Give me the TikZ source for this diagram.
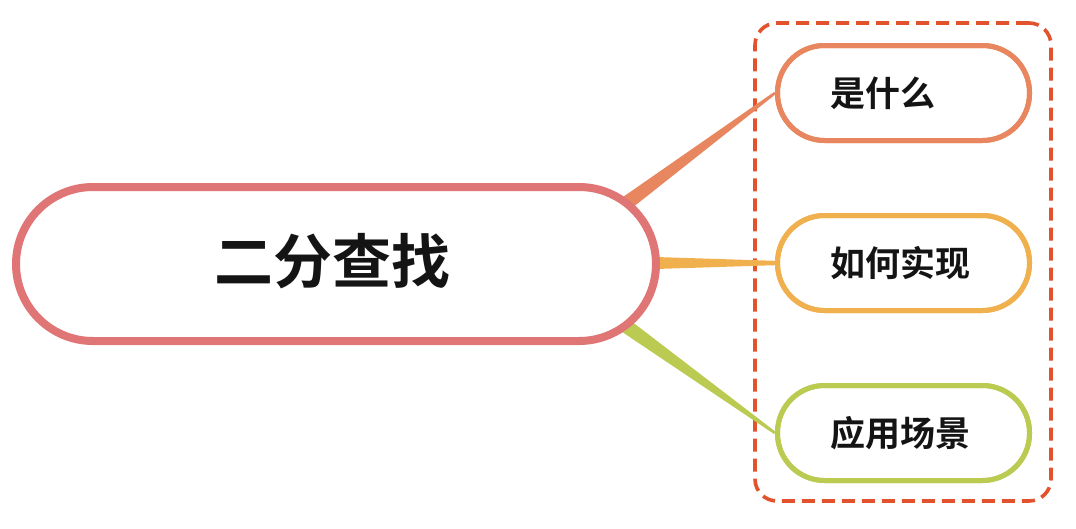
\documentclass[tikz,border=0pt]{standalone}
\usepackage{fontspec}
\newfontfamily\cjk{Noto Sans CJK SC}[BoldFont={Noto Sans CJK SC Bold}]
\usetikzlibrary{calc}
\definecolor{mainc}{HTML}{E07575}
\definecolor{c1}{HTML}{E8875F}
\definecolor{c2}{HTML}{F0B04E}
\definecolor{c3}{HTML}{BBCB52}
\definecolor{dashc}{HTML}{E2532D}
\tikzset{
  mainbox/.style={draw=mainc, line width=8pt, fill=white, rounded corners=77pt,
    minimum width=640pt, minimum height=154pt, inner sep=0pt},
  childbox/.style={line width=5pt, fill=white, rounded corners=47pt,
    minimum width=252pt, minimum height=95pt, inner sep=0pt},
  maintext/.style={font=\cjk\bfseries\fontsize{59}{62}\selectfont, text=black!92},
  childtext/.style={font=\cjk\bfseries\fontsize{35}{39}\selectfont, text=black!92, anchor=west, inner sep=0pt},
}
\begin{document}
\begin{tikzpicture}[x=1pt,y=-1pt]
\useasboundingbox (0,0) rectangle (1076,528);
% group box
\node[draw=dashc, line width=3.6pt, dash pattern=on 13pt off 7pt, rounded corners=22pt,
  minimum width=296pt, minimum height=478pt, inner sep=0pt] (grp) at (903,262) {};
% child nodes
\node[childbox, draw=c1] (a) at (903.5,93) {};
\node[childbox, draw=c2] (b) at (903.5,263) {};
\node[childbox, draw=c3] (c) at (903.5,433) {};
% connector start points on main border
\coordinate (s1) at (612,214);
\coordinate (s2) at (640,263);
\coordinate (s3) at (612,316);
% tapered connectors
\fill[c1] ($(s1)+(-4.6,-6.2)$) -- ($(a.west)+(-0.8,-1.1)$) -- ($(a.west)+(0.8,1.1)$) -- ($(s1)+(4.6,6.2)$) -- cycle;
\fill[c2] ($(s2)+(0,-6.5)$) -- ($(b.west)+(0,-2.2)$) -- ($(b.west)+(0,2.2)$) -- ($(s2)+(0,6.5)$) -- cycle;
\fill[c3] ($(s3)+(-4.4,6.2)$) -- ($(c.west)+(-0.8,1.1)$) -- ($(c.west)+(0.8,-1.1)$) -- ($(s3)+(4.4,-6.2)$) -- cycle;
% redraw child borders over connector ends
\node[childbox, draw=c1, fill=none] at (a) {};
\node[childbox, draw=c2, fill=none] at (b) {};
\node[childbox, draw=c3, fill=none] at (c) {};
% main node
\node[mainbox] (m) at (336,264) {};
\node[maintext] (mt) at (332,261) {二分查找};
% child texts
\node[childtext] (at) at (830,93) {是什么};
\node[childtext] (bt) at (830,263) {如何实现};
\node[childtext] (ct) at (830,433) {应用场景};
\end{tikzpicture}
\end{document}
